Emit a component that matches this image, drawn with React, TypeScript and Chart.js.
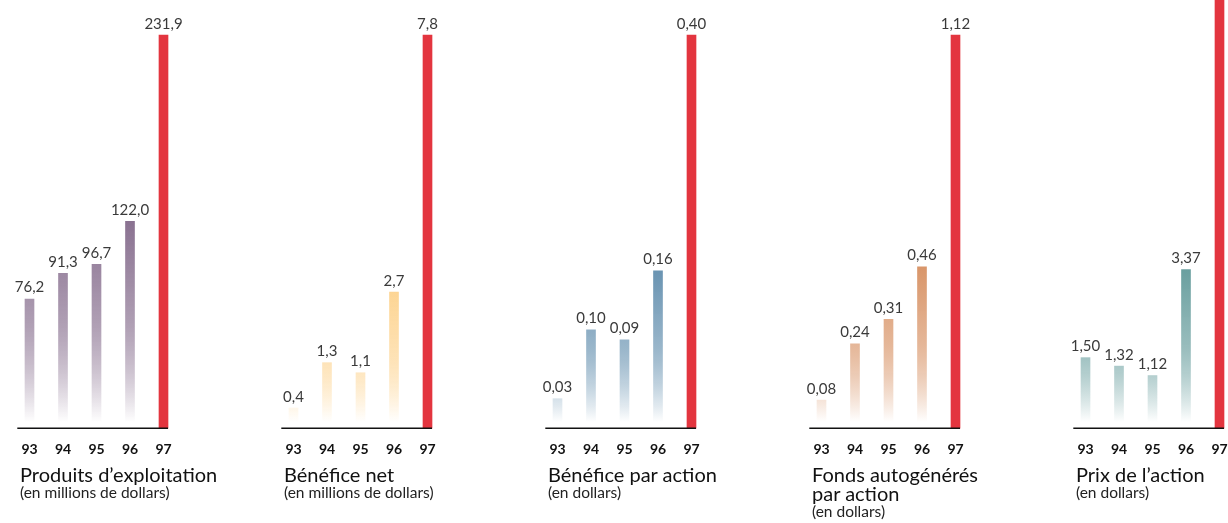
import React, { useEffect, useRef } from "react";
import { Chart, registerables } from "chart.js";

Chart.register(...registerables);

// ---- data ----
const years = ["93", "94", "95", "96", "97"];
const produits = [76.2, 91.3, 96.7, 122.0, 231.9];
const benefice = [0.4, 1.3, 1.1, 2.7, 7.8];
const beneficeParAction = [0.03, 0.1, 0.09, 0.16, 0.4];
const fondsParAction = [0.08, 0.24, 0.31, 0.46, 1.12];
const prixAction = [1.5, 1.32, 1.12, 3.37, 9.4];
const decimals = [1, 1, 2, 2, 2];
const scaleMax = [231.9, 7.8, 0.4, 1.12, 8.36];
const titles = [
  ["Produits d’exploitation"],
  ["Bénéfice net"],
  ["Bénéfice par action"],
  ["Fonds autogénérés", "par action"],
  ["Prix de l’action"],
];
const subtitles = [
  "(en millions de dollars)",
  "(en millions de dollars)",
  "(en dollars)",
  "(en dollars)",
  "(en dollars)",
];
const seriesList = [produits, benefice, beneficeParAction, fondsParAction, prixAction];

// ---- styles ----
const baseColors = ["#8a7291", "#fdd594", "#6a94b2", "#d9966a", "#6a9f9f"];
const highlight = "#e3353f";
const PANEL_W = 264;
const CANVAS_H = 475;
const FONT = "Lato, 'Noto Sans', sans-serif";

function fmt(v: number, d: number) {
  return v.toFixed(d).replace(".", ",");
}

const overlayPlugin = {
  id: "overlay",
  afterDatasetsDraw(chart: any, _args: any, opts: any) {
    const { ctx } = chart;
    const meta = chart.getDatasetMeta(0);
    const data = chart.data.datasets[0].data as number[];
    ctx.save();
    ctx.font = `400 15px ${FONT}`;
    ctx.fillStyle = "#3a3a3a";
    ctx.textAlign = "center";
    ctx.textBaseline = "alphabetic";
    meta.data.forEach((bar: any, i: number) => {
      ctx.fillText(fmt(data[i], opts.decimals), bar.x, bar.y - 6.5);
    });
    const y = chart.scales.y.getPixelForValue(0);
    const x0 = meta.data[0].x - 12.2;
    const x1 = meta.data[meta.data.length - 1].x + 4.5;
    ctx.strokeStyle = "#111";
    ctx.lineWidth = 1.5;
    ctx.beginPath();
    ctx.moveTo(x0, y);
    ctx.lineTo(x1, y);
    ctx.stroke();
    ctx.restore();
  },
};

function Panel({ index }: { index: number }) {
  const ref = useRef<HTMLCanvasElement>(null);
  useEffect(() => {
    const values = seriesList[index];
    const base = baseColors[index];
    const chart = new Chart(ref.current as HTMLCanvasElement, {
      type: "bar",
      data: {
        labels: years,
        datasets: [
          {
            data: values,
            barThickness: 9,
            clip: false as any,
            borderWidth: 0,
            backgroundColor: (c: any) => {
              if (c.dataIndex === values.length - 1) return highlight;
              const ch = c.chart;
              const area = ch.chartArea;
              if (!area || !ch.scales.y) return base;
              const top = ch.scales.y.getPixelForValue(Math.max(...values.slice(0, 4)));
              const bottom = area.bottom;
              const g = ch.ctx.createLinearGradient(0, top, 0, bottom);
              const endFade = Math.max(0.5, (bottom - 6 - top) / (bottom - top));
              g.addColorStop(0, base);
              g.addColorStop(endFade * 0.5, base + "b0");
              g.addColorStop(endFade, "rgba(255,255,255,1)");
              g.addColorStop(1, "rgba(255,255,255,1)");
              return g;
            },
          },
        ],
      },
      options: {
        animation: false,
        responsive: false,
        maintainAspectRatio: false,
        layout: { padding: { left: 12.75, right: PANEL_W - 180.25, top: 35, bottom: 4 } },
        plugins: {
          legend: { display: false },
          tooltip: { enabled: false },
          overlay: { decimals: decimals[index] },
        } as any,
        scales: {
          x: {
            offset: true,
            grid: { display: false, drawTicks: false },
            border: { display: false },
            ticks: {
              padding: 13,
              autoSkip: false,
              maxRotation: 0,
              color: "#111",
              font: { family: FONT, size: 14, weight: 700 as any },
            },
          },
          y: { display: false, min: 0, max: scaleMax[index] },
        },
      },
      plugins: [overlayPlugin as any],
    });
    return () => chart.destroy();
  }, [index]);

  const left = PANEL_W * index;
  return (
    <>
      <canvas
        ref={ref}
        width={PANEL_W}
        height={CANVAS_H}
        style={{ position: "absolute", left, top: 0, width: PANEL_W, height: CANVAS_H }}
      />
      <div style={{ position: "absolute", left: left + 20, top: 464.8, fontFamily: FONT, color: "#111" }}>
        {titles[index].map((t, i) => (
          <div key={i} style={{ fontSize: 20, lineHeight: "19px", whiteSpace: "nowrap" }}>
            {t}
          </div>
        ))}
        <div style={{ fontSize: 15.5, lineHeight: "16px", color: "#222", whiteSpace: "nowrap" }}>
          {subtitles[index]}
        </div>
      </div>
    </>
  );
}

export default function App() {
  return (
    <div
      style={{
        position: "absolute",
        left: 0,
        top: 0,
        width: 1228,
        height: 523,
        overflow: "hidden",
        background: "#fff",
      }}
    >
      {seriesList.map((_, i) => (
        <Panel key={i} index={i} />
      ))}
    </div>
  );
}
